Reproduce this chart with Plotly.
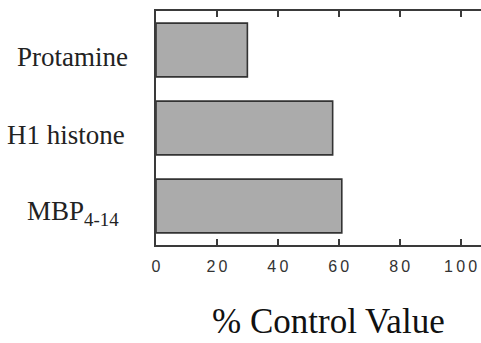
import plotly.graph_objects as go

# Kinase activity with each substrate, as percent of control
substrates = ["Protamine", "H1 histone", "MBP<sub>4-14</sub>"]
percent_control = [30, 58, 61]
x_ticks = [0, 20, 40, 60, 80, 100]
x_tick_labels = ["0", "2\u20090", "4\u20090", "6\u20090", "8\u20090", "1\u20090\u20090"]

AXIS = "#3a3a3a"
SERIF = "Liberation Serif"

fig = go.Figure(
    go.Bar(
        x=percent_control,
        y=substrates,
        orientation="h",
        width=0.69,
        marker=dict(color="#ababab", line=dict(color="#333333", width=1.6)),
        hoverinfo="x+y",
    )
)

fig.update_layout(
    width=481,
    height=343,
    margin=dict(l=156, r=0, t=11, b=98),
    plot_bgcolor="white",
    paper_bgcolor="white",
    showlegend=False,
)

fig.update_xaxes(
    range=[0, 106.7],
    tickvals=x_ticks,
    ticktext=x_tick_labels,
    ticks="inside",
    ticklen=6,
    tickwidth=1.5,
    tickcolor=AXIS,
    showline=True,
    linecolor=AXIS,
    linewidth=1.5,
    mirror="ticks",
    showgrid=False,
    zeroline=False,
    tickfont=dict(family="Liberation Sans", size=16, color="#333333"),
    ticklabelstandoff=6,
)

fig.update_yaxes(
    categoryorder="array",
    categoryarray=substrates,
    range=[2.5, -0.5],
    showline=True,
    linecolor=AXIS,
    linewidth=1.5,
    ticks="",
    showgrid=False,
    zeroline=False,
    showticklabels=False,
)

# substrate names, set left of the axis and sitting a little low
label_gap = [-26, -29, -35]
for name, gap in zip(substrates, label_gap):
    fig.add_annotation(
        text=name,
        xref="paper",
        yref="y",
        x=0,
        y=name,
        xanchor="right",
        yanchor="middle",
        xshift=gap,
        yshift=-7,
        showarrow=False,
        font=dict(family=SERIF, size=27, color="#222222"),
    )

fig.add_annotation(
    text="% Control Value",
    xref="paper",
    yref="paper",
    x=0.53,
    y=0,
    xanchor="center",
    yanchor="top",
    yshift=-55,
    showarrow=False,
    font=dict(family=SERIF, size=35, color="#111111"),
)

fig.write_html("out.html")
